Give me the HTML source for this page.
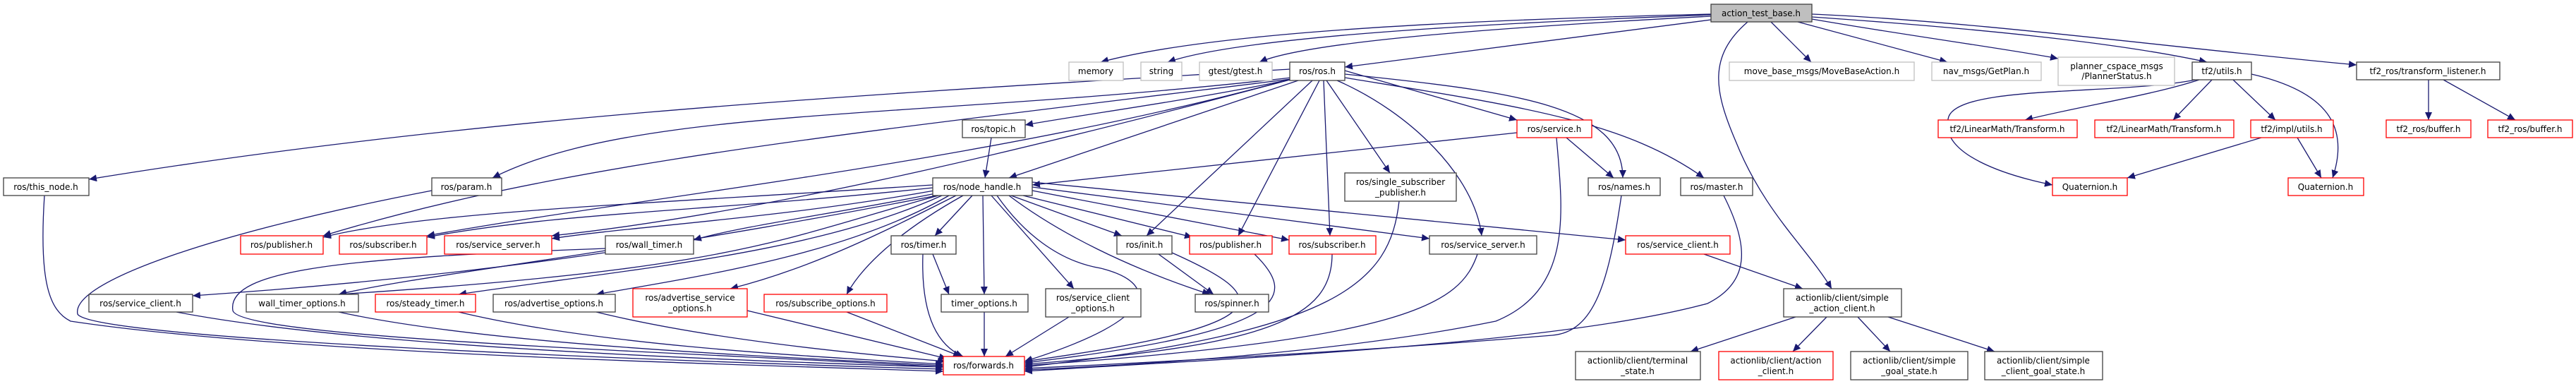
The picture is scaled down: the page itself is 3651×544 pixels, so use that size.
<!DOCTYPE html>
<html><head><meta charset="utf-8"><style>
html,body{margin:0;padding:0;background:#fff;}
svg{display:block;}
text{font-family:"DejaVu Sans","Liberation Sans",sans-serif;font-size:12px;fill:#000;text-anchor:middle;}
.e{fill:none;stroke:#191970;stroke-width:1.3;marker-end:url(#a);}
.b{fill:#fff;stroke:#404040;stroke-width:1.3;}
.r{fill:#fff;stroke:#ff0000;stroke-width:1.3;}
.g{fill:#fff;stroke:#bfbfbf;stroke-width:1.3;}
.f{fill:#bfbfbf;stroke:#404040;stroke-width:1.3;}
</style></head><body>
<svg width="3651" height="544" viewBox="0 0 3651 544" xmlns="http://www.w3.org/2000/svg">
<defs><marker id="a" markerUnits="userSpaceOnUse" markerWidth="12" markerHeight="10" refX="11" refY="5" orient="auto"><path d="M0,0 L11,5 L0,10 z" fill="#191970"/></marker></defs>
<g>
<!-- action_test_base edges -->
<path class="e" d="M2425,20 C2000,30 1700,50 1560,88"/>
<path class="e" d="M2425,21 C2050,35 1750,55 1655,88"/>
<path class="e" d="M2425,23 C2100,40 1850,60 1785,88"/>
<path class="e" d="M2425,28 L1906,95"/>
<path class="e" d="M2510,31 L2567,88"/>
<path class="e" d="M2548,31 L2760,88"/>
<path class="e" d="M2568,27 C2700,50 2850,70 2917,83"/>
<path class="e" d="M2568,24 C2800,40 3000,60 3128,88"/>
<path class="e" d="M2568,20 C2800,30 3100,70 3340,92"/>
<path class="e" d="M2477,31 C2420,80 2430,130 2460,200 C2500,300 2560,350 2596,409"/>
<!-- ros.h edges -->
<path class="e" d="M1828,98 C1300,130 700,160 126,254"/>
<path class="e" d="M1830,110 C1300,170 900,150 698,252"/>
<path class="e" d="M1830,112 C1200,190 800,230 458,334"/>
<path class="e" d="M1830,112 C1400,230 900,280 605,334"/>
<path class="e" d="M1832,112 C1500,200 1100,300 782,334"/>
<path class="e" d="M1832,112 C1700,140 1550,160 1453,177"/>
<path class="e" d="M1840,114 L1430,252"/>
<path class="e" d="M1860,114 L1625,334"/>
<path class="e" d="M1870,114 L1755,334"/>
<path class="e" d="M1876,114 L1885,334"/>
<path class="e" d="M1880,114 L1970,245"/>
<path class="e" d="M1906,100 L2150,170"/>
<path class="e" d="M1906,105 C2150,130 2300,150 2300,252"/>
<path class="e" d="M1906,110 C2150,150 2300,170 2415,252"/>
<path class="e" d="M1895,114 C2000,160 2090,250 2100,334"/>
<!-- topic / service -->
<path class="e" d="M1405,195 L1396,252"/>
<path class="e" d="M2150,188 L1463,262"/>
<path class="e" d="M2220,195 L2287,252"/>
<path class="e" d="M2206,195 C2215,300 2230,410 2120,455 C1900,500 1600,518 1452,524"/>
<!-- node_handle edges -->
<path class="e" d="M1322,262 C900,290 600,300 458,336"/>
<path class="e" d="M1322,266 C1000,300 800,300 605,336"/>
<path class="e" d="M1324,270 C1100,310 900,320 782,338"/>
<path class="e" d="M1326,274 C1200,300 1050,320 983,340"/>
<path class="e" d="M1328,277 C1000,340 700,390 273,419"/>
<path class="e" d="M1330,277 C1100,340 1050,380 480,417"/>
<path class="e" d="M1335,277 C1150,360 900,380 650,417"/>
<path class="e" d="M1345,277 C1200,360 1000,390 845,417"/>
<path class="e" d="M1355,277 C1250,330 1150,380 1035,409"/>
<path class="e" d="M1365,277 C1270,330 1220,380 1200,417"/>
<path class="e" d="M1378,277 L1325,334"/>
<path class="e" d="M1393,277 L1395,417"/>
<path class="e" d="M1405,277 L1522,409"/>
<path class="e" d="M1413,277 C1450,330 1500,370 1560,380 C1640,400 1650,450 1452,512"/>
<path class="e" d="M1430,277 C1500,330 1600,380 1715,417"/>
<path class="e" d="M1433,277 L1590,334"/>
<path class="e" d="M1450,277 L1690,336"/>
<path class="e" d="M1463,270 L1827,340"/>
<path class="e" d="M1463,265 L2026,338"/>
<path class="e" d="M1463,258 L2304,340"/>
<!-- to forwards -->
<path class="e" d="M63,277 C55,400 70,440 100,455 C400,500 1000,515 1337,526"/>
<path class="e" d="M612,270 C300,330 100,400 110,445 C130,480 900,510 1337,523"/>
<path class="e" d="M858,352 C500,365 320,380 330,440 C340,480 1000,500 1337,520"/>
<path class="e" d="M858,355 C700,380 550,400 480,417"/>
<path class="e" d="M250,442 C500,490 1000,510 1337,520"/>
<path class="e" d="M480,442 C700,490 1100,505 1337,518"/>
<path class="e" d="M650,442 C850,490 1150,505 1337,516"/>
<path class="e" d="M845,442 C1000,480 1200,500 1340,512"/>
<path class="e" d="M1059,440 L1342,508"/>
<path class="e" d="M1200,442 L1362,505"/>
<path class="e" d="M1322,360 L1345,417"/>
<path class="e" d="M1308,360 C1305,450 1330,490 1365,505"/>
<path class="e" d="M1395,442 L1395,505"/>
<path class="e" d="M1515,449 L1425,505"/>
<path class="e" d="M1642,360 L1720,417"/>
<path class="e" d="M1661,358 C1800,420 1830,460 1452,512"/>
<path class="e" d="M1778,360 C1840,420 1830,470 1452,514"/>
<path class="e" d="M1888,360 C1888,450 1800,490 1452,516"/>
<path class="e" d="M2094,360 C2070,430 2000,480 1452,518"/>
<path class="e" d="M1983,285 C1970,400 1900,470 1452,520"/>
<path class="e" d="M2298,277 C2280,400 2260,470 2200,475 C1900,500 1600,515 1452,522"/>
<path class="e" d="M2443,277 C2480,350 2480,400 2420,430 C2200,490 1700,510 1452,526"/>
<!-- actionlib -->
<path class="e" d="M2415,360 L2555,409"/>
<path class="e" d="M2545,449 L2396,498"/>
<path class="e" d="M2589,449 L2541,498"/>
<path class="e" d="M2633,449 L2679,498"/>
<path class="e" d="M2676,449 L2827,498"/>
<!-- tf2 -->
<path class="e" d="M3117,113 C3050,135 2950,150 2870,170"/>
<path class="e" d="M3135,113 L3080,170"/>
<path class="e" d="M3165,113 L3225,170"/>
<path class="e" d="M3191,105 C3300,130 3330,180 3306,252"/>
<path class="e" d="M3112,113 C3000,135 2780,120 2762,165 C2745,220 2850,250 2909,262"/>
<path class="e" d="M3205,195 L3015,252"/>
<path class="e" d="M3256,195 L3290,252"/>
<path class="e" d="M3442,113 L3442,170"/>
<path class="e" d="M3463,113 L3565,170"/>
</g>
<g>
<rect class="f" x="2425" y="6" width="143" height="25"/><text x="2496" y="23">action_test_base.h</text>
<rect class="g" x="1515" y="88" width="77" height="26"/><text x="1553" y="105">memory</text>
<rect class="g" x="1617" y="88" width="58" height="26"/><text x="1646" y="105">string</text>
<rect class="g" x="1700" y="88" width="103" height="26"/><text x="1751" y="105">gtest/gtest.h</text>
<rect class="g" x="2451" y="88" width="262" height="26"/><text x="2582" y="105">move_base_msgs/MoveBaseAction.h</text>
<rect class="g" x="2738" y="88" width="155" height="26"/><text x="2815" y="105">nav_msgs/GetPlan.h</text>
<rect class="g" x="2917" y="81" width="165" height="40"/><text x="3000" y="98">planner_cspace_msgs</text><text x="3000" y="112">/PlannerStatus.h</text>
<rect class="b" x="1828" y="88" width="78" height="26"/><text x="1867" y="105">ros/ros.h</text>
<rect class="b" x="1364" y="170" width="89" height="25"/><text x="1408" y="187">ros/topic.h</text>
<rect class="r" x="2150" y="170" width="106" height="25"/><text x="2203" y="187">ros/service.h</text>
<rect class="r" x="2747" y="170" width="197" height="25"/><text x="2845" y="187">tf2/LinearMath/Transform.h</text>
<rect class="r" x="2969" y="170" width="197" height="25"/><text x="3067" y="187">tf2/LinearMath/Transform.h</text>
<rect class="r" x="3190" y="170" width="117" height="25"/><text x="3248" y="187">tf2/impl/utils.h</text>
<rect class="r" x="3382" y="170" width="120" height="25"/><text x="3442" y="187">tf2_ros/buffer.h</text>
<rect class="r" x="3526" y="170" width="120" height="25"/><text x="3586" y="187">tf2_ros/buffer.h</text>
<rect class="b" x="3107" y="88" width="84" height="25"/><text x="3149" y="105">tf2/utils.h</text>
<rect class="b" x="3340" y="88" width="203" height="25"/><text x="3441" y="105">tf2_ros/transform_listener.h</text>
<rect class="b" x="5" y="252" width="121" height="25"/><text x="65" y="269">ros/this_node.h</text>
<rect class="b" x="612" y="252" width="99" height="25"/><text x="661" y="269">ros/param.h</text>
<rect class="b" x="1322" y="252" width="141" height="25"/><text x="1392" y="269">ros/node_handle.h</text>
<rect class="b" x="1906" y="245" width="158" height="40"/><text x="1985" y="262">ros/single_subscriber</text><text x="1985" y="277">_publisher.h</text>
<rect class="b" x="2251" y="252" width="102" height="25"/><text x="2302" y="269">ros/names.h</text>
<rect class="b" x="2382" y="252" width="102" height="25"/><text x="2433" y="269">ros/master.h</text>
<rect class="r" x="2909" y="252" width="106" height="25"/><text x="2962" y="269">Quaternion.h</text>
<rect class="r" x="3243" y="252" width="107" height="25"/><text x="3296" y="269">Quaternion.h</text>
<rect class="r" x="341" y="334" width="117" height="26"/><text x="399" y="351">ros/publisher.h</text>
<rect class="r" x="481" y="334" width="124" height="26"/><text x="543" y="351">ros/subscriber.h</text>
<rect class="r" x="630" y="334" width="152" height="26"/><text x="706" y="351">ros/service_server.h</text>
<rect class="b" x="858" y="334" width="125" height="26"/><text x="920" y="351">ros/wall_timer.h</text>
<rect class="b" x="1263" y="334" width="92" height="26"/><text x="1309" y="351">ros/timer.h</text>
<rect class="b" x="1583" y="334" width="78" height="26"/><text x="1622" y="351">ros/init.h</text>
<rect class="r" x="1686" y="334" width="117" height="26"/><text x="1744" y="351">ros/publisher.h</text>
<rect class="r" x="1827" y="334" width="123" height="26"/><text x="1888" y="351">ros/subscriber.h</text>
<rect class="b" x="2026" y="334" width="152" height="26"/><text x="2102" y="351">ros/service_server.h</text>
<rect class="r" x="2304" y="334" width="148" height="26"/><text x="2378" y="351">ros/service_client.h</text>
<rect class="b" x="126" y="417" width="147" height="25"/><text x="199" y="434">ros/service_client.h</text>
<rect class="b" x="349" y="417" width="159" height="25"/><text x="428" y="434">wall_timer_options.h</text>
<rect class="r" x="532" y="417" width="142" height="25"/><text x="603" y="434">ros/steady_timer.h</text>
<rect class="b" x="699" y="417" width="173" height="25"/><text x="785" y="434">ros/advertise_options.h</text>
<rect class="r" x="897" y="409" width="162" height="40"/><text x="978" y="426">ros/advertise_service</text><text x="978" y="441">_options.h</text>
<rect class="r" x="1083" y="417" width="174" height="25"/><text x="1170" y="434">ros/subscribe_options.h</text>
<rect class="b" x="1334" y="417" width="123" height="25"/><text x="1395" y="434">timer_options.h</text>
<rect class="b" x="1482" y="409" width="135" height="40"/><text x="1549" y="426">ros/service_client</text><text x="1549" y="441">_options.h</text>
<rect class="b" x="1694" y="417" width="104" height="25"/><text x="1746" y="434">ros/spinner.h</text>
<rect class="b" x="2528" y="409" width="167" height="40"/><text x="2611" y="426">actionlib/client/simple</text><text x="2611" y="441">_action_client.h</text>
<rect class="r" x="1337" y="505" width="115" height="26"/><text x="1394" y="522">ros/forwards.h</text>
<rect class="b" x="2233" y="498" width="177" height="40"/><text x="2321" y="515">actionlib/client/terminal</text><text x="2321" y="530">_state.h</text>
<rect class="r" x="2436" y="498" width="162" height="40"/><text x="2517" y="515">actionlib/client/action</text><text x="2517" y="530">_client.h</text>
<rect class="b" x="2623" y="498" width="166" height="40"/><text x="2706" y="515">actionlib/client/simple</text><text x="2706" y="530">_goal_state.h</text>
<rect class="b" x="2813" y="498" width="167" height="40"/><text x="2896" y="515">actionlib/client/simple</text><text x="2896" y="530">_client_goal_state.h</text>
</g>
</svg>
</body></html>
